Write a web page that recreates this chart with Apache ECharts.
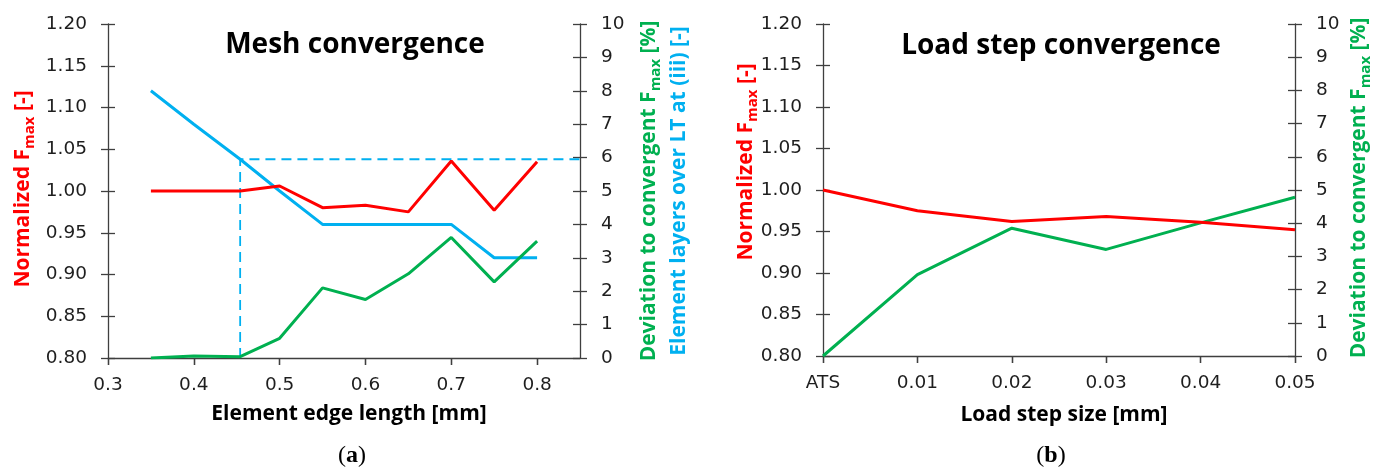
<!DOCTYPE html>
<html>
<head>
<meta charset="utf-8">
<script src="https://cdn.jsdelivr.net/npm/echarts@6/dist/echarts.min.js"></script>
<style>
  html, body { margin: 0; background: #fff; }
  #chart { width: 1381px; height: 469px; }
</style>
</head>
<body>
<div id="chart"></div>
<script>
// (a) mesh convergence
const edgeLength = [0.35, 0.4, 0.454, 0.5, 0.55, 0.6, 0.65, 0.7, 0.75, 0.8]
const meshNormFmax = [1.000, 1.000, 1.000, 1.006, 0.980, 0.983, 0.975, 1.036, 0.977, 1.035]
const meshDeviation = [0, 0.06, 0.04, 0.59, 2.1, 1.75, 2.52, 3.61, 2.28, 3.5]
const meshLayers = [8, 7, 5.95, 5, 4, 4, 4, 4, 3, 3]
const convergedEdge = 0.454
const convergedLayers = 5.95
const edgeTicks = [0.3, 0.4, 0.5, 0.6, 0.7, 0.8]
const edgeMin = 0.3
const edgeMax = 0.85

// (b) load step convergence
const loadStep = ['ATS', '0.01', '0.02', '0.03', '0.04', '0.05']
const stepNormFmax = [1.000, 0.975, 0.962, 0.968, 0.961, 0.952]
const stepDeviation = [0, 2.45, 3.85, 3.21, 4.01, 4.78]

// shared axes
const normTicks = [0.80, 0.85, 0.90, 0.95, 1.00, 1.05, 1.10, 1.15, 1.20]
const pctTicks = [0, 1, 2, 3, 4, 5, 6, 7, 8, 9, 10]

const RED = '#ff0000'
const GREEN = '#00b050'
const BLUE = '#00b0f0'
const AXIS = '#3f3f3f'
const tickText = { color: '#1e1e1e', fontSize: 18.5, fontFamily: 'DejaVu Sans' }

const chart = echarts.init(document.getElementById('chart'))

// an outer axis (line, outside ticks, labels) plus an inner twin (inside ticks only),
// so the ticks cross the axis line like in the source figure
function yPair(gridIndex, position, ticks, fmt) {
  const base = {
    type: 'value', gridIndex, position,
    min: ticks[0], max: ticks[ticks.length - 1],
    splitLine: { show: false },
  }
  return [
    {
      ...base,
      axisLine: { show: true, lineStyle: { color: AXIS, width: 1.3 } },
      axisTick: { show: true, length: 7, customValues: ticks, lineStyle: { color: AXIS, width: 1.3 } },
      axisLabel: { ...tickText, margin: 21, customValues: ticks, formatter: fmt },
    },
    {
      ...base,
      axisLine: { show: false },
      axisTick: { show: true, inside: true, length: 7, customValues: ticks, lineStyle: { color: AXIS, width: 1.3 } },
      axisLabel: { show: false },
    },
  ]
}

const [normA, normAIn] = yPair(0, 'left', normTicks, v => v.toFixed(2))
const [pctA, pctAIn] = yPair(0, 'right', pctTicks, v => String(v))
const [normB, normBIn] = yPair(1, 'left', normTicks, v => v.toFixed(2))
const [pctB, pctBIn] = yPair(1, 'right', pctTicks, v => String(v))

const edgeAxis = {
  type: 'value', gridIndex: 0, min: edgeMin, max: edgeMax,
  splitLine: { show: false },
}
const stepAxis = {
  type: 'category', gridIndex: 1, data: loadStep, boundaryGap: false,
  splitLine: { show: false },
}

function xPair(base, labelOpts) {
  return [
    {
      ...base,
      axisLine: { show: true, lineStyle: { color: AXIS, width: 1.3 } },
      axisTick: { show: true, length: 7, lineStyle: { color: AXIS, width: 1.3 }, ...labelOpts.tick },
      axisLabel: { ...tickText, margin: 18, ...labelOpts.label },
    },
    {
      ...base,
      axisLine: { show: false },
      axisTick: { show: true, inside: true, length: 7, lineStyle: { color: AXIS, width: 1.3 }, ...labelOpts.tick },
      axisLabel: { show: false },
    },
  ]
}

const xA = xPair(edgeAxis, {
  tick: { customValues: edgeTicks },
  label: { customValues: edgeTicks, formatter: v => v.toFixed(1) },
})
const xB = xPair(stepAxis, { tick: {}, label: { interval: 0 } })

const lineBase = { type: 'line', symbol: 'none', silent: true }

function axisName(x, y, text, color, rotated) {
  return {
    type: 'text', x, y, rotation: rotated ? Math.PI / 2 : 0,
    style: {
      text,
      align: 'center', verticalAlign: 'middle',
      fill: color,
      rich: {
        m: { fontSize: 21, fontWeight: 'bold', fontFamily: 'Open Sans', lineHeight: 21, verticalAlign: 'top', fill: color },
        s: { fontSize: 15, fontWeight: 'bold', fontFamily: 'Open Sans', lineHeight: 15, padding: [10, 0, 0, 0], verticalAlign: 'top', fill: color },
      },
    },
  }
}

function title(x, y, text) {
  return {
    type: 'text', x, y,
    style: { text, font: 'bold 28px "Open Sans"', fill: '#000', align: 'center', verticalAlign: 'middle' },
  }
}

function panelTag(x, y, letter) {
  return {
    type: 'text', x, y,
    style: {
      text: '{p|(}{b|' + letter + '}{p|)}',
      align: 'center', verticalAlign: 'middle',
      rich: {
        p: { fontSize: 24, fontFamily: 'Liberation Serif', fill: '#000' },
        b: { fontSize: 24, fontFamily: 'Liberation Serif', fontWeight: 'bold', fill: '#000' },
      },
    },
  }
}

chart.setOption({
  animation: false,
  grid: [
    { left: 108, top: 24, width: 472, height: 334 },
    { left: 823, top: 24, width: 472, height: 332 },
  ],
  xAxis: [...xA, ...xB],
  yAxis: [normA, pctA, normAIn, pctAIn, normB, pctB, normBIn, pctBIn],
  series: [
    {
      ...lineBase, xAxisIndex: 0, yAxisIndex: 1,
      data: [[convergedEdge, 0], [convergedEdge, convergedLayers], [edgeMax, convergedLayers]],
      lineStyle: { color: BLUE, width: 1.8, type: [10, 6] },
    },
    {
      ...lineBase, xAxisIndex: 0, yAxisIndex: 1,
      data: edgeLength.map((x, i) => [x, meshLayers[i]]),
      lineStyle: { color: BLUE, width: 3 },
    },
    {
      ...lineBase, xAxisIndex: 0, yAxisIndex: 1,
      data: edgeLength.map((x, i) => [x, meshDeviation[i]]),
      lineStyle: { color: GREEN, width: 3 },
    },
    {
      ...lineBase, xAxisIndex: 0, yAxisIndex: 0,
      data: edgeLength.map((x, i) => [x, meshNormFmax[i]]),
      lineStyle: { color: RED, width: 3 },
    },
    {
      ...lineBase, xAxisIndex: 2, yAxisIndex: 5,
      data: stepDeviation,
      lineStyle: { color: GREEN, width: 3 },
    },
    {
      ...lineBase, xAxisIndex: 2, yAxisIndex: 4,
      data: stepNormFmax,
      lineStyle: { color: RED, width: 3 },
    },
  ],
  graphic: [
    title(355, 45, 'Mesh convergence'),
    title(1061, 46, 'Load step convergence'),
    { type: 'text', x: 349, y: 414, style: { text: 'Element edge length [mm]', font: 'bold 21px "Open Sans"', fill: '#000', align: 'center', verticalAlign: 'middle' } },
    { type: 'text', x: 1064, y: 415, style: { text: 'Load step size [mm]', font: 'bold 21px "Open Sans"', fill: '#000', align: 'center', verticalAlign: 'middle' } },
    axisName(23, 189, '{m|Normalized F}{s|max}{m| [-]}', RED, true),
    axisName(649, 191, '{m|Deviation to convergent F}{s|max}{m| [%]}', GREEN, true),
    axisName(679, 191, '{m|Element layers over LT at (iii) [-]}', BLUE, true),
    axisName(746, 162, '{m|Normalized F}{s|max}{m| [-]}', RED, true),
    axisName(1359, 188, '{m|Deviation to convergent F}{s|max}{m| [%]}', GREEN, true),
    panelTag(352, 456, 'a'),
    panelTag(1051, 456, 'b'),
  ],
})
</script>
</body>
</html>
